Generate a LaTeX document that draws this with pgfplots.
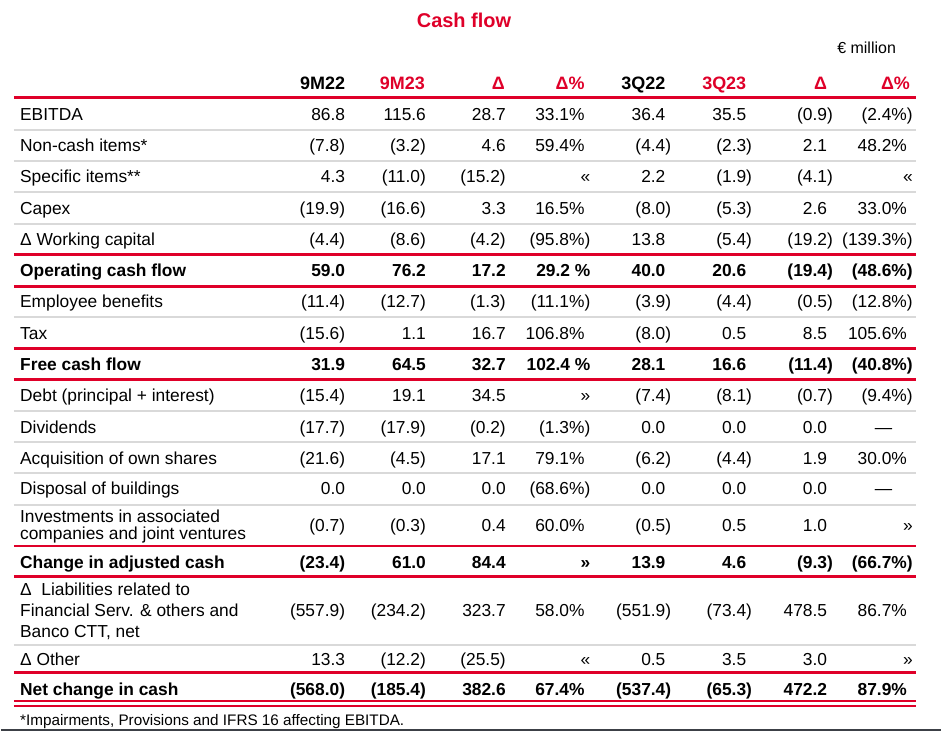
\documentclass[border=0pt]{standalone}
\usepackage{fontspec}
\setmainfont{Liberation Sans}
\usepackage{pgfplots}
\pgfplotsset{compat=1.18}
\definecolor{cttred}{RGB}{223,0,41}
\definecolor{gline}{RGB}{217,217,217}
\definecolor{dline}{RGB}{60,64,70}
\newcommand{\h}{\kern-5.8pt}
\tikzset{
  cN/.style={anchor=base east,inner sep=0pt,font=\fontsize{17.4}{20}\selectfont},
  cB/.style={anchor=base east,inner sep=0pt,font=\fontsize{17.4}{20}\selectfont\bfseries},
  lN/.style={anchor=base west,inner sep=0pt,font=\fontsize{17.4}{20}\selectfont},
  lB/.style={anchor=base west,inner sep=0pt,font=\fontsize{17.4}{20}\selectfont\bfseries},
  hd/.style={anchor=base east,inner sep=0pt,font=\fontsize{18}{20}\selectfont\bfseries},
  rl/.style={cttred,line width=2.6pt},
  gl/.style={gline,line width=2pt},
}
\newcommand{\rowN}[9]{%
  \node[cN] at (axis cs:345,#1) {#2};
  \node[cN] at (axis cs:426,#1) {#3};
  \node[cN] at (axis cs:506,#1) {#4};
  \node[cN] at (axis cs:585,#1) {#5};
  \node[cN] at (axis cs:666,#1) {#6};
  \node[cN] at (axis cs:747,#1) {#7};
  \node[cN] at (axis cs:828,#1) {#8};
  \node[cN] at (axis cs:908,#1) {#9};}
\newcommand{\rowB}[9]{%
  \node[cB] at (axis cs:345,#1) {#2};
  \node[cB] at (axis cs:426,#1) {#3};
  \node[cB] at (axis cs:506,#1) {#4};
  \node[cB] at (axis cs:585,#1) {#5};
  \node[cB] at (axis cs:666,#1) {#6};
  \node[cB] at (axis cs:747,#1) {#7};
  \node[cB] at (axis cs:828,#1) {#8};
  \node[cB] at (axis cs:908,#1) {#9};}
\newcommand{\hl}[2]{\draw[#2] (axis cs:13,#1) -- (axis cs:917,#1);}
\begin{document}
\begin{tikzpicture}
\begin{axis}[scale only axis, width=942pt, height=734pt,
  xmin=0, xmax=942, ymin=0, ymax=734, y dir=reverse,
  axis lines=none, ticks=none, clip=false]
\path (axis cs:0,0) rectangle (axis cs:942,734);
% title
\node[anchor=base,inner sep=0pt,font=\fontsize{20}{22}\selectfont\bfseries,text=cttred] at (axis cs:464,28) {Cash flow};
\node[anchor=base east,inner sep=0pt,font=\fontsize{16}{18}\selectfont] at (axis cs:897,53.5) {€ million};
% header
\node[hd] at (axis cs:345,90) {9M22};
\node[hd,text=cttred] at (axis cs:425,90) {9M23};
\node[hd,text=cttred] at (axis cs:505,90) {Δ};
\node[hd,text=cttred] at (axis cs:585,90) {Δ\%};
\node[hd] at (axis cs:666,90) {3Q22};
\node[hd,text=cttred] at (axis cs:747,90) {3Q23};
\node[hd,text=cttred] at (axis cs:828,90) {Δ};
\node[hd,text=cttred] at (axis cs:911,90) {Δ\%};
% rules
\hl{98}{rl}
\hl{130}{gl} \hl{161}{gl} \hl{192}{gl} \hl{224}{gl}
\hl{255}{rl} \hl{287}{rl}
\hl{318}{gl}
\hl{349}{rl} \hl{380}{rl}
\hl{412}{gl} \hl{443}{gl} \hl{474}{gl} \hl{506}{gl}
\hl{547}{rl} \hl{578}{rl}
\hl{646}{gl}
\hl{674}{rl}
\draw[cttred,line width=2pt] (axis cs:13,702) -- (axis cs:917,702);
\draw[cttred,line width=2pt] (axis cs:13,707) -- (axis cs:917,707);
\draw[dline,line width=2pt] (axis cs:0,731.5) -- (axis cs:942,731.5);
% labels
\node[lN] at (axis cs:19,120.5) {EBITDA};
\node[lN] at (axis cs:19,152) {Non-cash items*};
\node[lN] at (axis cs:19,183) {Specific items**};
\node[lN] at (axis cs:19,214.5) {Capex};
\node[lN] at (axis cs:19,246) {Δ Working capital};
\node[lB] at (axis cs:19,277.5) {Operating cash flow};
\node[lN] at (axis cs:19,308.5) {Employee benefits};
\node[lN] at (axis cs:19,340) {Tax};
\node[lB] at (axis cs:19,371.5) {Free cash flow};
\node[lN] at (axis cs:19,402.5) {Debt (principal + interest)};
\node[lN] at (axis cs:19,434) {Dividends};
\node[lN] at (axis cs:19,465) {Acquisition of own shares};
\node[lN] at (axis cs:19,496) {Disposal of buildings};
\node[lN] at (axis cs:19,524) {Investments in associated};
\node[lN] at (axis cs:19,541) {companies and joint ventures};
\node[lB] at (axis cs:19,570) {Change in adjusted cash};
\node[lN] at (axis cs:19,597) {Δ\ \ Liabilities related to};
\node[lN] at (axis cs:19,618) {Financial Serv. \& others and};
\node[lN] at (axis cs:19,639) {Banco CTT, net};
\node[lN] at (axis cs:19,667) {Δ Other};
\node[lB] at (axis cs:19,696.5) {Net change in cash};
% values
\rowN{120.5}{86.8}{115.6}{28.7}{33.1\%}{36.4}{35.5}{(0.9)\h}{(2.4\%)\h}
\rowN{152}{(7.8)}{(3.2)}{4.6}{59.4\%}{(4.4)\h}{(2.3)\h}{2.1}{48.2\%}
\rowN{183}{4.3}{(11.0)}{(15.2)}{«\h}{2.2}{(1.9)\h}{(4.1)\h}{«\h}
\rowN{214.5}{(19.9)}{(16.6)}{3.3}{16.5\%}{(8.0)\h}{(5.3)\h}{2.6}{33.0\%}
\rowN{246}{(4.4)}{(8.6)}{(4.2)}{(95.8\%)\h}{13.8}{(5.4)\h}{(19.2)\h}{(139.3\%)\h}
\rowB{277.5}{59.0}{76.2}{17.2}{29.2 \%\h}{40.0}{20.6}{(19.4)\h}{(48.6\%)\h}
\rowN{308.5}{(11.4)}{(12.7)}{(1.3)}{(11.1\%)\h}{(3.9)\h}{(4.4)\h}{(0.5)\h}{(12.8\%)\h}
\rowN{340}{(15.6)}{1.1}{16.7}{106.8\%}{(8.0)\h}{0.5}{8.5}{105.6\%}
\rowB{371.5}{31.9}{64.5}{32.7}{102.4 \%\h}{28.1}{16.6}{(11.4)\h}{(40.8\%)\h}
\rowN{402.5}{(15.4)}{19.1}{34.5}{»\h}{(7.4)\h}{(8.1)\h}{(0.7)\h}{(9.4\%)\h}
\rowN{434}{(17.7)}{(17.9)}{(0.2)}{(1.3\%)\h}{0.0}{0.0}{0.0}{}
\rowN{465}{(21.6)}{(4.5)}{17.1}{79.1\%}{(6.2)\h}{(4.4)\h}{1.9}{30.0\%}
\rowN{496}{0.0}{0.0}{0.0}{(68.6\%)\h}{0.0}{0.0}{0.0}{}
\rowN{533}{(0.7)}{(0.3)}{0.4}{60.0\%}{(0.5)\h}{0.5}{1.0}{»\h}
\rowB{570}{(23.4)}{61.0}{84.4}{»\h}{13.9}{4.6}{(9.3)\h}{(66.7\%)\h}
\rowN{618}{(557.9)}{(234.2)}{323.7}{58.0\%}{(551.9)\h}{(73.4)\h}{478.5}{86.7\%}
\rowN{667}{13.3}{(12.2)}{(25.5)}{«\h}{0.5}{3.5}{3.0}{»\h}
\rowB{696.5}{(568.0)}{(185.4)}{382.6}{67.4\%}{(537.4)\h}{(65.3)\h}{472.2}{87.9\%}
\node[anchor=base,inner sep=0pt,font=\fontsize{17.4}{20}\selectfont] at (axis cs:884.5,434) {—};
\node[anchor=base,inner sep=0pt,font=\fontsize{17.4}{20}\selectfont] at (axis cs:884.5,496) {—};
% footnote
\node[anchor=base west,inner sep=0pt,font=\fontsize{15.3}{17}\selectfont] at (axis cs:19,727) {*Impairments, Provisions and IFRS 16 affecting EBITDA.};
\end{axis}
\end{tikzpicture}
\end{document}
